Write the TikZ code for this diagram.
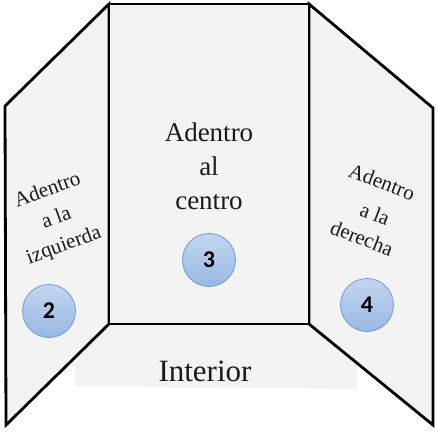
\documentclass[tikz,border=0pt]{standalone}
\usepackage{fontspec}
\setmainfont{Liberation Serif}
\newfontfamily\numfont{Carlito}
\definecolor{panel}{HTML}{F3F3F3}
\definecolor{circtop}{HTML}{C3D6F0}
\definecolor{circbot}{HTML}{98B8E3}
\definecolor{circborder}{HTML}{6E9CD6}
\definecolor{ink}{HTML}{1A1A1A}
\begin{document}
\begin{tikzpicture}[x=1pt,y=-1pt,
  edge/.style={draw=black,line width=2.8pt,line join=miter,fill=panel},
  badge/.style={circle,minimum size=53pt,inner sep=0pt,draw=circborder,line width=0.8pt,
    top color=circtop,bottom color=circbot,font=\numfont\bfseries\fontsize{24}{24}\selectfont},
  lbl/.style={align=center,inner sep=0pt,text=ink},
  side/.style={lbl,font=\fontsize{21}{21}\selectfont}]
\useasboundingbox (0,0) rectangle (438,432);
% interior band
\fill[panel] (109,324) -- (309,324) -- (357,362) -- (357,389) -- (75,386) -- (75,357) -- cycle;
% panels
\draw[edge] (5,106) -- (109,4) -- (109,324) -- (6,425) -- cycle;
\draw[edge] (433,108) -- (309,4) -- (309,324) -- (433,425) -- cycle;
\draw[edge] (109,4) rectangle (309,324);
% center text
\node[lbl,font=\fontsize{27}{34}\selectfont] (c) at (209,166) {Adentro\\al\\centro};
\node[lbl,font=\fontsize{31}{31}\selectfont] (int) at (205,371) {Interior};
% left text
\node[side,rotate=20] (l1) at (47,189) {Adentro};
\node[side,rotate=20] (l2) at (56,217) {a la};
\node[side,rotate=20] (l3) at (64,246) {izquierda};
% right text
\node[side,rotate=-21] (r1) at (382,182) {Adentro};
\node[side,rotate=-21] (r2) at (375,214) {a la};
\node[side,rotate=-21] (r3) at (362,238) {derecha};
% badges
\node[badge] (b2) at (49,311) {2};
\node[badge] (b3) at (209,260) {3};
\node[badge] (b4) at (367,305) {4};
\end{tikzpicture}
\end{document}
